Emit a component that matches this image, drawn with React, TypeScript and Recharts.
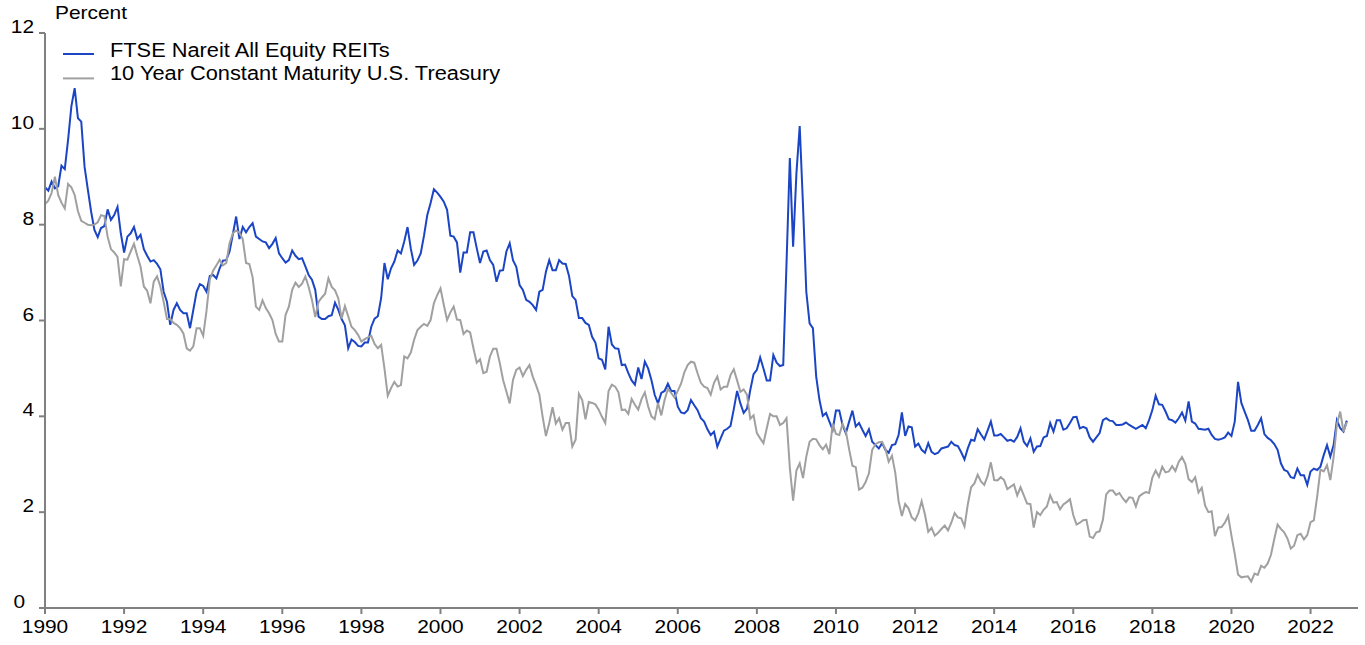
import { Legend, Line, LineChart, XAxis, YAxis } from 'recharts'

// monthly, month-end, Jan 1990 .. Dec 2022 (percent)
const reitYield = [
  8.78, 8.71, 8.9, 8.76, 8.8, 9.23, 9.16, 9.77, 10.47, 10.85, 10.22, 10.15, // 1990
  9.21, 8.73, 8.27, 7.89, 7.74, 7.93, 7.97, 8.32, 8.1, 8.2, 8.37, 7.82, // 1991
  7.42, 7.75, 7.82, 7.95, 7.7, 7.79, 7.49, 7.35, 7.23, 7.26, 7.18, 7.07, // 1992
  6.6, 6.39, 5.91, 6.22, 6.36, 6.22, 6.15, 6.15, 5.84, 6.22, 6.6, 6.76, // 1993
  6.72, 6.6, 6.93, 6.95, 6.88, 7.09, 7.25, 7.26, 7.44, 7.8, 8.17, 7.7, // 1994
  7.95, 7.84, 7.95, 8.03, 7.75, 7.7, 7.65, 7.63, 7.51, 7.6, 7.72, 7.4, // 1995
  7.3, 7.21, 7.26, 7.46, 7.35, 7.28, 7.3, 7.13, 6.95, 6.85, 6.64, 6.08, // 1996
  6.03, 6.03, 6.09, 6.11, 6.37, 6.22, 6.03, 5.9, 5.42, 5.6, 5.55, 5.47, // 1997
  5.46, 5.54, 5.54, 5.87, 6.04, 6.09, 6.47, 7.2, 6.86, 7.09, 7.23, 7.46, // 1998
  7.4, 7.65, 7.95, 7.5, 7.16, 7.25, 7.4, 7.77, 8.2, 8.45, 8.74, 8.67, // 1999
  8.58, 8.48, 8.31, 7.77, 7.75, 7.63, 7.0, 7.42, 7.42, 7.84, 7.84, 7.51, // 2000
  7.2, 7.44, 7.46, 7.26, 7.16, 6.81, 7.04, 7.05, 7.44, 7.61, 7.26, 7.12, // 2001
  6.74, 6.64, 6.43, 6.39, 6.32, 6.22, 6.6, 6.64, 7.02, 7.26, 7.05, 7.05, // 2002
  7.26, 7.19, 7.18, 6.93, 6.51, 6.43, 6.05, 6.05, 5.95, 5.91, 5.66, 5.54, // 2003
  5.21, 5.18, 4.98, 5.87, 5.5, 5.42, 5.41, 5.07, 5.08, 4.9, 4.75, 4.66, // 2004
  5.02, 4.78, 5.14, 5.0, 4.76, 4.45, 4.27, 4.49, 4.53, 4.68, 4.53, 4.53, // 2005
  4.2, 4.08, 4.06, 4.13, 4.34, 4.23, 4.13, 3.96, 3.89, 3.73, 3.61, 3.68, // 2006
  3.37, 3.54, 3.7, 3.74, 3.8, 4.15, 4.53, 4.27, 4.07, 4.16, 4.55, 4.88, // 2007
  4.97, 5.23, 5.0, 4.75, 4.75, 5.28, 5.12, 5.05, 5.07, 7.2, 9.39, 7.54, // 2008
  9.07, 10.06, 8.4, 6.6, 5.94, 5.84, 4.83, 4.34, 4.01, 4.07, 3.89, 3.72, // 2009
  4.12, 4.12, 3.82, 3.65, 3.89, 4.12, 3.79, 3.86, 3.72, 3.59, 3.73, 3.47, // 2010
  3.4, 3.33, 3.44, 3.3, 3.24, 3.4, 3.42, 3.61, 4.08, 3.59, 3.79, 3.77, // 2011
  3.37, 3.43, 3.3, 3.24, 3.44, 3.26, 3.21, 3.24, 3.33, 3.35, 3.37, 3.47, // 2012
  3.4, 3.38, 3.25, 3.1, 3.33, 3.51, 3.49, 3.73, 3.62, 3.52, 3.7, 3.89, // 2013
  3.6, 3.6, 3.63, 3.56, 3.49, 3.51, 3.47, 3.57, 3.75, 3.47, 3.38, 3.54, // 2014
  3.26, 3.37, 3.38, 3.56, 3.59, 3.86, 3.68, 3.92, 3.92, 3.72, 3.75, 3.86, // 2015
  3.98, 3.99, 3.75, 3.78, 3.75, 3.56, 3.47, 3.56, 3.65, 3.92, 3.96, 3.91, // 2016
  3.9, 3.82, 3.82, 3.83, 3.87, 3.82, 3.78, 3.74, 3.78, 3.82, 3.75, 3.92, // 2017
  4.13, 4.43, 4.25, 4.24, 4.1, 3.94, 3.92, 3.87, 3.96, 4.08, 3.91, 4.31, // 2018
  3.89, 3.85, 3.74, 3.73, 3.72, 3.74, 3.61, 3.53, 3.51, 3.53, 3.56, 3.66, // 2019
  3.59, 3.89, 4.72, 4.28, 4.1, 3.92, 3.7, 3.7, 3.82, 3.96, 3.63, 3.55, // 2020
  3.5, 3.42, 3.3, 3.02, 2.88, 2.85, 2.73, 2.71, 2.91, 2.77, 2.77, 2.57, // 2021
  2.85, 2.91, 2.88, 2.95, 3.19, 3.4, 3.16, 3.4, 3.92, 3.75, 3.68, 3.91, // 2022
]

const treasuryYield = [
  8.43, 8.5, 8.66, 9.0, 8.62, 8.46, 8.34, 8.85, 8.78, 8.62, 8.28, 8.08, // 1990
  8.04, 8.0, 7.99, 8.0, 8.05, 8.2, 8.18, 7.75, 7.49, 7.42, 7.33, 6.71, // 1991
  7.28, 7.27, 7.44, 7.6, 7.35, 7.12, 6.71, 6.62, 6.36, 6.81, 6.92, 6.71, // 1992
  6.39, 6.03, 6.03, 5.95, 5.91, 5.84, 5.73, 5.42, 5.37, 5.46, 5.84, 5.84, // 1993
  5.68, 6.2, 6.85, 7.04, 7.15, 7.27, 7.15, 7.2, 7.61, 7.82, 7.88, 7.83, // 1994
  7.7, 7.2, 7.18, 6.9, 6.29, 6.22, 6.42, 6.26, 6.15, 6.01, 5.72, 5.56, // 1995
  5.56, 6.12, 6.29, 6.64, 6.79, 6.7, 6.77, 6.92, 6.7, 6.43, 6.07, 6.39, // 1996
  6.48, 6.56, 6.88, 6.7, 6.63, 6.46, 6.04, 6.3, 6.09, 5.87, 5.8, 5.7, // 1997
  5.56, 5.61, 5.65, 5.68, 5.51, 5.42, 5.49, 5.0, 4.43, 4.59, 4.72, 4.62, // 1998
  4.65, 5.25, 5.21, 5.33, 5.6, 5.8, 5.87, 5.93, 5.89, 6.01, 6.36, 6.53, // 1999
  6.67, 6.33, 6.01, 6.17, 6.29, 6.02, 6.01, 5.72, 5.79, 5.75, 5.42, 5.12, // 2000
  5.19, 4.9, 4.93, 5.25, 5.41, 5.41, 5.11, 4.76, 4.52, 4.27, 4.76, 4.97, // 2001
  5.02, 4.84, 4.97, 5.07, 4.83, 4.65, 4.45, 3.99, 3.59, 3.86, 4.19, 3.85, // 2002
  3.96, 3.72, 3.86, 3.86, 3.37, 3.51, 4.47, 4.34, 3.94, 4.3, 4.28, 4.25, // 2003
  4.14, 3.99, 3.86, 4.53, 4.66, 4.62, 4.5, 4.13, 4.14, 4.05, 4.36, 4.24, // 2004
  4.14, 4.36, 4.5, 4.21, 4.0, 3.94, 4.28, 4.02, 4.34, 4.57, 4.49, 4.39, // 2005
  4.53, 4.68, 4.92, 5.07, 5.14, 5.12, 4.9, 4.7, 4.62, 4.59, 4.45, 4.7, // 2006
  4.83, 4.56, 4.62, 4.62, 4.86, 4.98, 4.75, 4.51, 4.56, 4.45, 3.95, 4.02, // 2007
  3.65, 3.54, 3.44, 3.75, 4.05, 4.0, 4.0, 3.82, 3.86, 3.96, 2.93, 2.24, // 2008
  2.87, 3.02, 2.71, 3.16, 3.47, 3.53, 3.52, 3.4, 3.31, 3.41, 3.21, 3.85, // 2009
  3.63, 3.61, 3.84, 3.69, 3.31, 2.97, 2.94, 2.47, 2.51, 2.63, 2.81, 3.3, // 2010
  3.42, 3.46, 3.47, 3.32, 3.05, 3.18, 2.82, 2.23, 1.92, 2.17, 2.08, 1.89, // 2011
  1.83, 1.98, 2.23, 1.95, 1.59, 1.67, 1.51, 1.57, 1.65, 1.72, 1.62, 1.78, // 2012
  1.98, 1.89, 1.87, 1.7, 2.16, 2.52, 2.6, 2.78, 2.64, 2.57, 2.75, 3.04, // 2013
  2.67, 2.66, 2.73, 2.67, 2.48, 2.53, 2.58, 2.35, 2.52, 2.35, 2.18, 2.17, // 2014
  1.68, 2.0, 1.94, 2.05, 2.12, 2.35, 2.2, 2.21, 2.06, 2.16, 2.21, 2.27, // 2015
  1.94, 1.74, 1.78, 1.83, 1.84, 1.49, 1.46, 1.58, 1.6, 1.84, 2.37, 2.45, // 2016
  2.45, 2.36, 2.4, 2.29, 2.21, 2.31, 2.3, 2.12, 2.33, 2.38, 2.42, 2.4, // 2017
  2.72, 2.87, 2.74, 2.95, 2.83, 2.85, 2.96, 2.86, 3.05, 3.15, 3.01, 2.69, // 2018
  2.63, 2.73, 2.41, 2.51, 2.14, 2.0, 2.02, 1.5, 1.68, 1.69, 1.78, 1.92, // 2019
  1.51, 1.13, 0.7, 0.64, 0.65, 0.66, 0.55, 0.72, 0.69, 0.88, 0.84, 0.93, // 2020
  1.11, 1.44, 1.74, 1.65, 1.58, 1.45, 1.24, 1.3, 1.52, 1.55, 1.43, 1.52, // 2021
  1.79, 1.83, 2.32, 2.89, 2.85, 2.98, 2.67, 3.15, 3.83, 4.1, 3.68, 3.88, // 2022
]

const startYear = 1990
const xTicks = [1990, 1992, 1994, 1996, 1998, 2000, 2002, 2004, 2006, 2008, 2010, 2012, 2014, 2016, 2018, 2020, 2022]
const yTicks = [0, 2, 4, 6, 8, 10, 12]

const seriesNames = {
  reit: 'FTSE Nareit All Equity REITs',
  treasury: '10 Year Constant Maturity U.S. Treasury',
}

const BLUE = '#1b45c4'
const GRAY = '#a0a0a0'
const AXIS = '#808080'
const FONT = '"Liberation Sans", Arial, sans-serif'
const FONT_SIZE = 18.5
const LEGEND_FONT_SIZE = 19.3
const STRETCH = 1.13

const chartData = reitYield.map((reit, i) => ({
  t: startYear + i / 12,
  reit,
  treasury: treasuryYield[i],
}))

function XTick({ x, y, payload }: any) {
  return (
    <text
      transform={`translate(${x},${y + 17}) scale(${STRETCH},1)`}
      textAnchor="middle"
      fontSize={FONT_SIZE}
      fontFamily={FONT}
      fill="#000"
    >
      {payload.value}
    </text>
  )
}

function YTick({ x, y, payload }: any) {
  // the zero label sits further left in the original
  const shift = payload.value === 0 ? -9 : 0
  return (
    <text
      transform={`translate(${x - 3 + shift},${y}) scale(${STRETCH},1)`}
      textAnchor="end"
      fontSize={FONT_SIZE}
      fontFamily={FONT}
      fill="#000"
    >
      {payload.value}
    </text>
  )
}

function ChartLegend() {
  const rows = [
    { name: seriesNames.reit, color: BLUE },
    { name: seriesNames.treasury, color: GRAY },
  ]
  return (
    <svg width={520} height={60} style={{ display: 'block' }}>
      {rows.map((row, i) => (
        <g key={row.name}>
          <line x1={18} x2={49} y1={14 + i * 24.4} y2={14 + i * 24.4} stroke={row.color} strokeWidth={2} />
          <text
            transform={`translate(65,${17 + i * 23.4}) scale(${STRETCH},1)`}
            fontSize={LEGEND_FONT_SIZE}
            fontFamily={FONT}
            fill="#000"
          >
            {row.name}
          </text>
        </g>
      ))}
    </svg>
  )
}

export default function App() {
  return (
    <div style={{ position: 'absolute', left: 0, top: 0, width: 1365, height: 645, background: '#fff' }}>
      <div
        style={{
          position: 'absolute',
          left: 55,
          top: 2,
          fontFamily: FONT,
          fontSize: FONT_SIZE,
          transform: `scaleX(${STRETCH})`,
          transformOrigin: 'left top',
          color: '#000',
          lineHeight: '22px',
        }}
      >
        Percent
      </div>
      <LineChart width={1365} height={645} data={chartData} margin={{ top: 33, right: 7, bottom: 0, left: 0 }}>
        <XAxis
          dataKey="t"
          type="number"
          domain={[1990, 2023.2]}
          ticks={xTicks}
          allowDataOverflow
          height={37}
          interval={0}
          tick={<XTick />}
          tickSize={6}
          axisLine={{ stroke: AXIS, strokeWidth: 2 }}
          tickLine={{ stroke: AXIS, strokeWidth: 2 }}
        />
        <YAxis
          type="number"
          domain={[0, 12]}
          ticks={yTicks}
          width={45}
          interval={0}
          tick={<YTick />}
          tickSize={6}
          axisLine={{ stroke: AXIS, strokeWidth: 2 }}
          tickLine={{ stroke: AXIS, strokeWidth: 2 }}
        />
        <Legend
          layout="horizontal"
          align="center"
          verticalAlign="middle"
          content={<ChartLegend />}
          wrapperStyle={{ left: 45, top: 40, width: 520, height: 60 }}
        />
        <Line
          type="linear"
          dataKey="reit"
          name={seriesNames.reit}
          stroke={BLUE}
          strokeWidth={2}
          dot={false}
          isAnimationActive={false}
        />
        <Line
          type="linear"
          dataKey="treasury"
          name={seriesNames.treasury}
          stroke={GRAY}
          strokeWidth={2}
          dot={false}
          isAnimationActive={false}
        />
      </LineChart>
    </div>
  )
}
